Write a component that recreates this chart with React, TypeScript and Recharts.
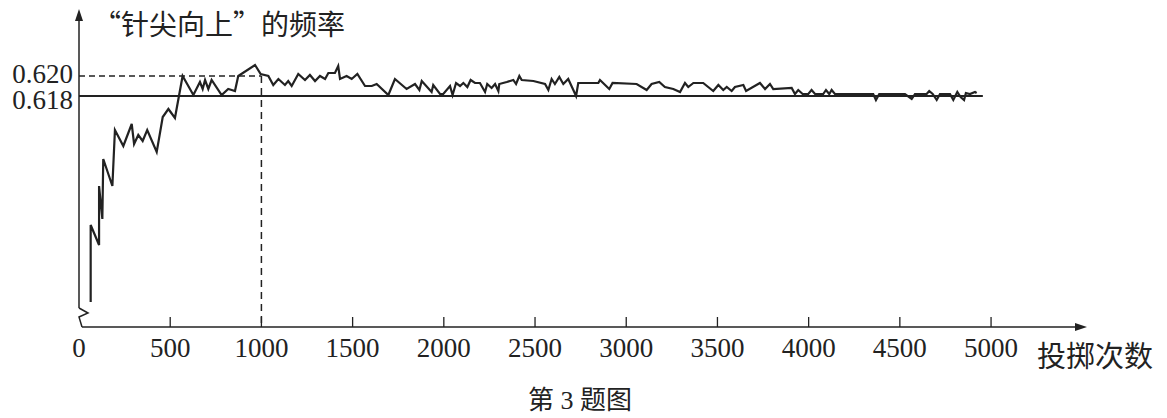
import React from 'react';
import { LineChart, Line, XAxis, YAxis, ReferenceLine } from 'recharts';

// throw counts and the "needle up" frequency
const COUNTS = [
  64, 64, 110, 110, 128, 133, 183, 197, 243, 289,
  302, 325, 349, 374, 426, 459, 490, 526, 568, 627,
  663, 678, 691, 709, 727, 782, 818, 837, 855, 873,
  965, 996, 1038, 1065, 1093, 1129, 1147, 1166, 1202, 1239,
  1266, 1294, 1321, 1349, 1367, 1403, 1421, 1431, 1467, 1495,
  1526, 1568, 1605, 1632, 1696, 1732, 1796, 1842, 1866, 1879,
  1933, 1942, 1979, 1997, 2034, 2048, 2067, 2089, 2107, 2129,
  2147, 2171, 2198, 2226, 2238, 2262, 2281, 2299, 2304, 2345,
  2381, 2396, 2414, 2427, 2491, 2555, 2573, 2591, 2609, 2633,
  2655, 2682, 2710, 2725, 2737, 2847, 2856, 2907, 2925, 3057,
  3112, 3139, 3181, 3212, 3258, 3295, 3322, 3340, 3368, 3422,
  3477, 3505, 3532, 3551, 3578, 3596, 3642, 3657, 3733, 3761,
  3788, 3806, 3907, 3925, 3943, 3967, 3998, 4016, 4035, 4080,
  4095, 4113, 4126, 4144, 4354, 4369, 4387, 4528, 4565, 4583,
  4647, 4661, 4680, 4702, 4720, 4775, 4793, 4815, 4833, 4852,
  4862, 4884, 4912, 4921,
];

const FREQS = [
  0.5974, 0.6051, 0.6031, 0.609, 0.6057, 0.6117, 0.609, 0.6146, 0.613, 0.6152,
  0.6132, 0.6141, 0.6135, 0.6146, 0.6124, 0.6159, 0.6167, 0.6158, 0.62, 0.6181,
  0.6194, 0.6187, 0.6196, 0.6187, 0.6196, 0.6181, 0.6187, 0.6186, 0.6185, 0.62,
  0.6211, 0.6202, 0.62, 0.6191, 0.6197, 0.6191, 0.6195, 0.619, 0.6202, 0.6196,
  0.6201, 0.6195, 0.62, 0.6197, 0.6203, 0.6203, 0.621, 0.6197, 0.62, 0.6197,
  0.6202, 0.619, 0.619, 0.6192, 0.6181, 0.6197, 0.6187, 0.6192, 0.6186, 0.6195,
  0.6184, 0.6191, 0.6182, 0.6182, 0.619, 0.6181, 0.6193, 0.619, 0.6193, 0.6189,
  0.6196, 0.6193, 0.6193, 0.6184, 0.6192, 0.6188, 0.6192, 0.6185, 0.6192, 0.6194,
  0.6196, 0.6192, 0.62, 0.6196, 0.6195, 0.6192, 0.6186, 0.6197, 0.6192, 0.6199,
  0.6192, 0.6197, 0.6186, 0.618, 0.6193, 0.6193, 0.6196, 0.6187, 0.6193, 0.6192,
  0.6186, 0.6192, 0.6194, 0.6189, 0.6187, 0.6184, 0.6193, 0.6189, 0.6193, 0.6193,
  0.6185, 0.6191, 0.6186, 0.6189, 0.6185, 0.6189, 0.6191, 0.6185, 0.6193, 0.6187,
  0.6192, 0.6187, 0.6188, 0.6182, 0.6186, 0.6182, 0.6182, 0.6186, 0.6182, 0.6182,
  0.6186, 0.6182, 0.6186, 0.6182, 0.6182, 0.6176, 0.6182, 0.6182, 0.6177, 0.6182,
  0.6182, 0.6185, 0.6182, 0.6176, 0.6182, 0.6182, 0.6176, 0.6184, 0.6179, 0.6176,
  0.6183, 0.6182, 0.6184, 0.6183,
];

const X_TICKS = [0, 500, 1000, 1500, 2000, 2500, 3000, 3500, 4000, 4500, 5000];
const Y_TICKS = [0.618, 0.62];
const X_DOMAIN: [number, number] = [0, 5515];
const Y_DOMAIN: [number, number] = [0.5949, 0.6264];
const STABLE = 0.618;
const MARKED = { count: 1000, freq: 0.62 };
const STABLE_END = 4955;

const data = COUNTS.map((n, i) => ({ n, f: FREQS[i] }));

const W = 1167;
const H = 418;
const LEFT = 79;
const TOP = 12;
const RIGHT = 1085;
const BOTTOM = 327;
const INK = '#222';
const SERIF = "'Liberation Serif', 'Times New Roman', serif";
const CJK = "'Noto Sans CJK SC', sans-serif";

const XTick = (props: any) => {
  const { x, payload } = props;
  return (
    <text x={x} y={BOTTOM + 30} textAnchor="middle" fontFamily={SERIF} fontSize={27} fill={INK}>
      {payload.value}
    </text>
  );
};

const YTick = (props: any) => {
  const { y, payload } = props;
  const shift = payload.value === STABLE ? 4 : -2;
  return (
    <text x={LEFT - 6} y={y + shift} dy="0.35em" textAnchor="end" fontFamily={SERIF} fontSize={27} fill={INK}>
      {payload.value.toFixed(3)}
    </text>
  );
};

export default function App() {
  const tickLen = (Y_DOMAIN[1] - Y_DOMAIN[0]) * (10 / (BOTTOM - TOP));
  return (
    <div style={{ position: 'absolute', left: 0, top: 0, width: W, height: H, background: '#fff' }}>
      <LineChart width={W} height={H} data={data} margin={{ top: TOP, right: W - RIGHT, bottom: H - BOTTOM - 30, left: LEFT - 60 }}>
        <XAxis
          dataKey="n"
          type="number"
          domain={X_DOMAIN}
          ticks={X_TICKS}
          allowDataOverflow
          axisLine={false}
          tickLine={false}
          height={30}
          tick={<XTick />}
          interval={0}
        />
        <YAxis
          type="number"
          domain={Y_DOMAIN}
          ticks={Y_TICKS}
          allowDataOverflow
          axisLine={false}
          tickLine={false}
          width={60}
          tick={<YTick />}
          interval={0}
        />
        <ReferenceLine
          segment={[{ x: 0, y: STABLE }, { x: STABLE_END, y: STABLE }]}
          stroke={INK}
          strokeWidth={1.8}
        />
        <ReferenceLine
          segment={[{ x: 0, y: MARKED.freq }, { x: MARKED.count, y: MARKED.freq }]}
          stroke={INK}
          strokeWidth={1.5}
          strokeDasharray="6 4"
        />
        <ReferenceLine
          segment={[{ x: MARKED.count, y: MARKED.freq }, { x: MARKED.count, y: Y_DOMAIN[0] }]}
          stroke={INK}
          strokeWidth={1.5}
          strokeDasharray="7 5"
        />
        {X_TICKS.filter((t) => t > 0).map((t) => (
          <ReferenceLine
            key={t}
            segment={[{ x: t, y: Y_DOMAIN[0] }, { x: t, y: Y_DOMAIN[0] + tickLen }]}
            stroke={INK}
            strokeWidth={1.3}
          />
        ))}
        <Line
          type="linear"
          dataKey="f"
          stroke={INK}
          strokeWidth={2.2}
          dot={false}
          isAnimationActive={false}
        />
      </LineChart>
      <svg width={W} height={H} style={{ position: 'absolute', left: 0, top: 0, pointerEvents: 'none' }}>
        {/* axes with arrows and the break on the vertical axis */}
        <line x1={LEFT} y1={TOP + 6} x2={LEFT} y2={BOTTOM - 19} stroke={INK} strokeWidth={1.5} />
        <polygon points={`${LEFT},${TOP - 3} ${LEFT - 4},${TOP + 9} ${LEFT + 4},${TOP + 9}`} fill={INK} />
        <polyline
          points={`${LEFT},${BOTTOM - 19} ${LEFT + 9},${BOTTOM - 14} ${LEFT},${BOTTOM - 10} ${LEFT + 3},${BOTTOM}`}
          fill="none"
          stroke={INK}
          strokeWidth={1.5}
        />
        <line x1={LEFT + 3} y1={BOTTOM} x2={RIGHT - 6} y2={BOTTOM} stroke={INK} strokeWidth={1.5} />
        <polygon points={`${RIGHT + 2},${BOTTOM} ${RIGHT - 10},${BOTTOM - 4} ${RIGHT - 10},${BOTTOM + 4}`} fill={INK} />
        <text x={93} y={23} dominantBaseline="central" fontFamily={CJK} fontSize={28} fill={INK}>
          “针尖向上”的频率
        </text>
        <text x={1037} y={354} dominantBaseline="central" fontFamily={CJK} fontSize={29} fill={INK}>
          投掷次数
        </text>
        <text x={580} y={400} textAnchor="middle" dominantBaseline="central" fontFamily={`${SERIF.split(',')[0]}, ${CJK}`} fontSize={26} fill={INK}>
          第 3 题图
        </text>
      </svg>
    </div>
  );
}
